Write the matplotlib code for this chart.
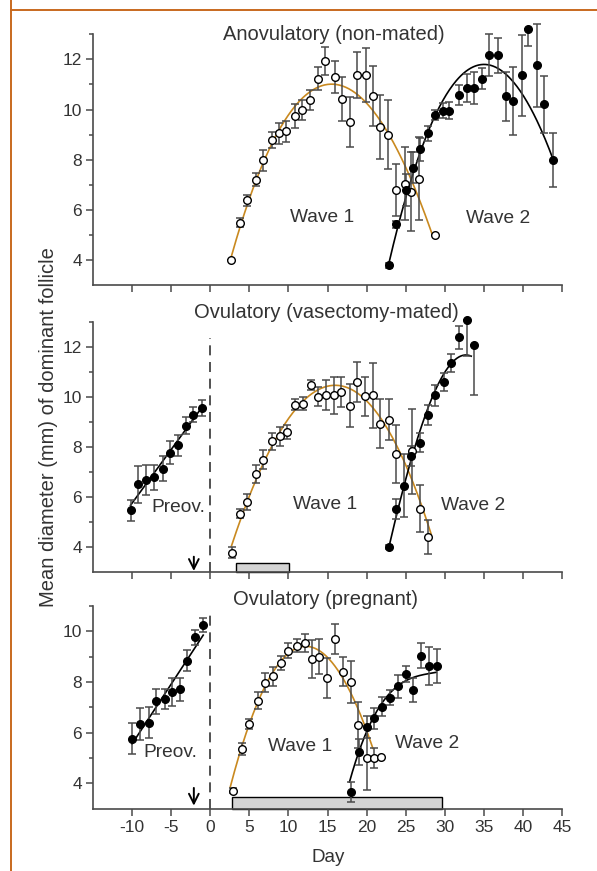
import numpy as np
import matplotlib
matplotlib.use("Agg")
import matplotlib.pyplot as plt
from matplotlib.lines import Line2D
from matplotlib.patches import Rectangle

plt.rcParams['font.family'] = ['Liberation Sans', 'DejaVu Sans']
plt.rcParams['axes.unicode_minus'] = False

# ---------------- data ----------------
# Top panel: anovulatory (non-mated)
a_w1_day = [2.7, 3.8, 4.7, 5.9, 6.7, 7.9, 8.8, 9.7, 10.8, 11.8, 12.7, 13.8, 14.7, 15.9, 16.8,
            17.9, 18.8, 19.9, 20.8, 21.7, 22.8, 23.7, 24.9, 25.7, 26.7, 28.7]
a_w1_val = [4.0, 5.49, 6.38, 7.2, 7.97, 8.78, 9.06, 9.13, 9.74, 9.98, 10.37, 11.23, 11.93, 11.3, 10.43,
            9.51, 11.37, 11.37, 10.55, 9.29, 9.0, 6.79, 7.04, 6.72, 7.24, 5.0]
a_w1_err = [0, 0.19, 0.22, 0.27, 0.41, 0.33, 0.42, 0.42, 0.48, 0.40, 0.39, 0.46, 0.56, 0.64, 0.88,
            1.0, 0.93, 1.08, 1.2, 1.28, 1.37, 1.03, 1.46, 1.58, 1.65, 0]
a_w2_day = [22.9, 23.8, 25.0, 25.9, 26.8, 27.8, 28.8, 29.75, 30.6, 31.8, 32.8, 33.75, 34.8, 35.7,
            36.8, 37.8, 38.7, 39.9, 40.7, 41.8, 42.75, 43.9]
a_w2_val = [3.79, 5.42, 6.79, 7.68, 8.41, 9.05, 9.78, 9.96, 9.96, 10.57, 10.87, 10.84, 11.23, 12.17,
            12.17, 10.53, 10.33, 11.36, 13.23, 11.76, 10.2, 7.97]
a_w2_elo = [0.1, 0.15, 0.65, 0.61, 0.46, 0.31, 0.21, 0.3, 0.33, 0.4, 0.56, 0.64, 0.43, 0.83,
            0.7, 0.98, 1.36, 1.6, 0.7, 1.67, 1.13, 1.08]
a_w2_ehi = [0.1, 0.15, 0.65, 0.61, 0.46, 0.31, 0.21, 0.3, 0.33, 0.4, 0.56, 0.64, 0.43, 0.83,
            0.7, 0.98, 1.36, 1.6, 0.0, 1.67, 1.13, 1.08]

# Middle panel: ovulatory (vasectomy-mated)
v_pre_day = [-10.2, -9.25, -8.2, -7.25, -6.06, -5.2, -4.14, -3.16, -2.2, -1.07]
v_pre_val = [5.45, 6.49, 6.67, 6.77, 7.12, 7.76, 8.05, 8.84, 9.28, 9.55]
v_pre_err = [0.43, 0.73, 0.6, 0.51, 0.5, 0.45, 0.41, 0.33, 0.31, 0.32]
v_w1_day = [2.72, 3.79, 4.73, 5.88, 6.78, 7.93, 8.86, 9.84, 10.87, 11.85, 12.87, 13.8, 14.75,
            15.77, 16.75, 17.9, 18.75, 19.86, 20.8, 21.7, 22.84, 23.8, 25.8, 26.77, 27.8]
v_w1_val = [3.75, 5.32, 5.79, 6.91, 7.48, 8.21, 8.41, 8.57, 9.68, 9.72, 10.47, 10.0, 10.05,
            10.05, 10.17, 9.64, 10.59, 10.01, 10.05, 8.91, 9.08, 7.71, 7.81, 5.52, 4.39]
v_w1_err = [0.22, 0.17, 0.32, 0.37, 0.39, 0.35, 0.37, 0.28, 0.23, 0.27, 0.21, 0.38, 0.6,
            0.73, 0.6, 0.87, 0.8, 0.78, 1.29, 0.98, 0.83, 1.17, 1.69, 0.95, 0.69]
v_w2_day = [22.84, 23.8, 24.85, 25.7, 26.77, 27.8, 28.8, 29.9, 30.86, 31.84, 32.8, 33.8]
v_w2_val = [3.97, 5.52, 6.44, 7.61, 8.15, 9.27, 10.05, 10.59, 11.35, 12.37, 13.08, 12.05]
v_w2_elo = [0.08, 0.4, 1.25, 0.4, 0.38, 0.4, 0.42, 0.35, 0.37, 0.45, 1.47, 2.0]
v_w2_ehi = [0.08, 0.4, 1.25, 0.4, 0.38, 0.4, 0.42, 0.35, 0.37, 0.45, 0.0, 0.0]

# Bottom panel: ovulatory (pregnant)
p_pre_day = [-9.98, -8.95, -7.89, -6.91, -5.84, -4.91, -3.84, -2.94, -2.0, -0.9]
p_pre_val = [5.76, 6.33, 6.4, 7.24, 7.32, 7.6, 7.71, 8.84, 9.76, 10.24]
p_pre_err = [0.61, 0.63, 0.6, 0.49, 0.39, 0.55, 0.45, 0.42, 0.31, 0.27]
p_w1_day = [2.9, 4.05, 4.94, 6.1, 6.95, 8.0, 9.0, 10.0, 11.04, 12.06, 13.08, 13.94, 14.96,
            15.98, 16.96, 18.07, 18.9, 20.07, 20.97, 21.9]
p_w1_val = [3.71, 5.36, 6.33, 7.27, 7.97, 8.23, 8.74, 9.24, 9.43, 9.54, 8.91, 9.0, 8.14,
            9.7, 8.4, 8.0, 6.31, 5.0, 5.0, 5.03]
p_w1_err = [0.1, 0.25, 0.2, 0.33, 0.38, 0.37, 0.27, 0.28, 0.25, 0.35, 0.75, 0.7, 0.79,
            0.6, 0.57, 0.81, 0.9, 1.25, 0.41, 0]
p_w2_day = [18.07, 19.0, 20.07, 21.0, 21.99, 23.0, 24.04, 25.06, 26.0, 26.9, 27.95, 28.98]
p_w2_val = [3.67, 5.24, 6.23, 6.56, 7.03, 7.38, 7.83, 8.31, 7.67, 9.04, 8.63, 8.63]
p_w2_err = [0.39, 0.5, 0.43, 0.4, 0.37, 0.3, 0.46, 0.31, 0.47, 0.5, 0.75, 0.67]

# Fitted growth/regression curves as printed (traced positions along each curve)
a_w1_fit_day = [2.7, 4.7, 7.88, 10.9, 15.9, 19.9, 21.65, 24.85, 26.8, 28.5]
a_w1_fit_val = [4.0, 6.35, 8.77, 9.94, 10.87, 10.4, 9.87, 7.61, 6.22, 5.05]
a_w2_fit_day = [22.9, 25.0, 26.8, 28.68, 31.88, 35.37, 38.7, 40.4, 43.9]
a_w2_fit_val = [3.79, 6.7, 8.3, 9.6, 11.13, 11.86, 11.25, 10.3, 7.97]
v_w1_fit_day = [2.72, 4.73, 7.93, 10.87, 14.83, 15.25, 21.65, 23.8, 25.5, 26.8, 28.26]
v_w1_fit_val = [3.99, 5.88, 8.01, 9.55, 10.35, 10.37, 9.35, 8.01, 6.95, 5.75, 4.55]
v_w2_fit_day = [22.84, 24.85, 26.42, 27.83, 29.96, 31.88, 33.38]
v_w2_fit_val = [3.97, 6.48, 8.28, 9.48, 11.01, 11.55, 11.64]
p_w1_fit_day = [2.56, 3.75, 6.1, 8.86, 12.7, 15.26, 16.96, 18.24, 19.5, 20.8]
p_w1_fit_val = [3.87, 5.13, 7.27, 8.71, 9.38, 8.94, 8.2, 7.4, 6.34, 5.47]
p_w2_fit_day = [17.81, 19.0, 20.07, 22.0, 24.04, 25.9, 28.9]
p_w2_fit_val = [4.0, 5.27, 6.2, 7.07, 7.8, 8.27, 8.36]

# linear pre-ovulatory fit spans (days)
v_pre_span = [-10.2, -1.0]
p_pre_span = [-10.0, -0.9]

x_ticks = [-10, -5, 0, 5, 10, 15, 20, 25, 30, 35, 40, 45]

# ---------------- style ----------------
ORANGE = '#c9891f'
FRAME = '#c8691e'
DARK = '#333333'
EC = '#4a4a4a'

W, H = 597, 871
fig = plt.figure(figsize=(W / 100, H / 100), dpi=100)

def box(top, bottom):
    return [93 / W, 1 - bottom / H, (562 - 93) / W, (bottom - top) / H]

ax1 = fig.add_axes(box(34.3, 285))
ax2 = fig.add_axes(box(321.7, 571.7))
ax3 = fig.add_axes(box(606, 808.7))

def style(ax, ymax, labels):
    ax.set_xlim(-15, 45)
    ax.set_ylim(3, ymax)
    for s in ['top', 'right']:
        ax.spines[s].set_visible(False)
    for s in ['left', 'bottom']:
        ax.spines[s].set_color(EC)
        ax.spines[s].set_linewidth(1.2)
    ax.set_xticks(x_ticks)
    ax.set_yticks(list(range(4, int(ymax) + 1, 2)))
    ax.set_yticks(list(range(5, int(ymax) + 1, 2)), minor=True)
    ax.tick_params(axis='both', which='major', length=5, width=1.1, color=EC,
                   labelsize=12.5, labelcolor=DARK, pad=3)
    ax.tick_params(axis='y', which='minor', length=3, width=1.1, color=EC)
    if not labels:
        ax.tick_params(axis='x', labelbottom=False)

style(ax1, 13, False)
style(ax2, 13, False)
style(ax3, 11, True)

def pts(ax, d, v, elo, ehi, filled):
    ax.errorbar(d, v, yerr=[elo, ehi], fmt='none', ecolor=EC, elinewidth=1.1,
                capsize=3, capthick=1.1, zorder=3, clip_on=False)
    ax.plot(d, v, 'o', ms=5.5, mfc='black' if filled else 'white', mec='black',
            mew=1.0, zorder=4, clip_on=False)

def curve(ax, d, v, color, deg=3):
    # smooth the traced curve positions with a low-order polynomial
    c = np.polyfit(d, v, deg)
    xs = np.linspace(min(d), max(d), 200)
    ax.plot(xs, np.polyval(c, xs), color=color, lw=1.2, zorder=2)

def linfit(ax, d, v, span):
    c = np.polyfit(d, v, 1)
    xs = np.linspace(span[0], span[1], 50)
    ax.plot(xs, np.polyval(c, xs), color='black', lw=1.2, zorder=2)

# top
curve(ax1, a_w1_fit_day, a_w1_fit_val, ORANGE)
curve(ax1, a_w2_fit_day, a_w2_fit_val, 'black')
pts(ax1, a_w1_day, a_w1_val, a_w1_err, a_w1_err, False)
pts(ax1, a_w2_day, a_w2_val, a_w2_elo, a_w2_ehi, True)

# middle
linfit(ax2, v_pre_day, v_pre_val, v_pre_span)
curve(ax2, v_w1_fit_day, v_w1_fit_val, ORANGE)
curve(ax2, v_w2_fit_day, v_w2_fit_val, 'black')
pts(ax2, v_pre_day, v_pre_val, v_pre_err, v_pre_err, True)
pts(ax2, v_w1_day, v_w1_val, v_w1_err, v_w1_err, False)
pts(ax2, v_w2_day, v_w2_val, v_w2_elo, v_w2_ehi, True)

# bottom
linfit(ax3, p_pre_day, p_pre_val, p_pre_span)
curve(ax3, p_w1_fit_day, p_w1_fit_val, ORANGE)
curve(ax3, p_w2_fit_day, p_w2_fit_val, 'black')
pts(ax3, p_pre_day, p_pre_val, p_pre_err, p_pre_err, True)
pts(ax3, p_w1_day, p_w1_val, p_w1_err, p_w1_err, False)
pts(ax3, p_w2_day, p_w2_val, p_w2_err, p_w2_err, True)

# dashed ovulation lines
ax2.axvline(0, ymin=0, ymax=0.935, color=DARK, lw=1.2, ls=(0, (6, 4)), zorder=1)
ax3.axvline(0, ymin=0, ymax=0.966, color=DARK, lw=1.2, ls=(0, (6, 4)), zorder=1)

# arrows
for ax, y0, y1 in [(ax2, 3.6, 3.03), (ax3, 3.82, 3.12)]:
    ax.annotate('', xy=(-2.1, y1), xytext=(-2.1, y0),
                arrowprops=dict(arrowstyle='->,head_length=0.5,head_width=0.25',
                                color='black', lw=1.4,
                                mutation_scale=14, shrinkA=0, shrinkB=0))

# grey bars
ax2.add_patch(Rectangle((3.3, 3.0), 10.1 - 3.3, 0.34, facecolor='#d4d4d4',
                        edgecolor='black', lw=1.0, zorder=1, clip_on=False))
ax3.add_patch(Rectangle((2.76, 3.0), 29.7 - 2.76, 0.47, facecolor='#d4d4d4',
                        edgecolor='black', lw=1.0, zorder=1, clip_on=False))

# titles & labels
tt = dict(fontsize=14.5, color=DARK, ha='center', va='center', clip_on=False)
ax1.text(15.8, 13.0, 'Anovulatory (non-mated)', **tt)
ax2.text(14.8, 13.35, 'Ovulatory (vasectomy-mated)', **tt)
ax3.text(14.8, 11.27, 'Ovulatory (pregnant)', **tt)

tk = dict(fontsize=13.8, color=DARK, ha='center', va='center')
ax1.text(14.35, 5.71, 'Wave 1', **tk)
ax1.text(36.8, 5.65, 'Wave 2', **tk)
ax2.text(-4.14, 5.55, 'Preov.', **tk)
ax2.text(14.7, 5.68, 'Wave 1', **tk)
ax2.text(33.6, 5.64, 'Wave 2', **tk)
ax3.text(-5.05, 5.2, 'Preov.', **tk)
ax3.text(11.55, 5.47, 'Wave 1', **tk)
ax3.text(27.8, 5.58, 'Wave 2', **tk)

fig.text(49 / W, 1 - 427 / H, 'Mean diameter (mm) of dominant follicle', rotation=90,
         fontsize=14.5, color=DARK, ha='center', va='center')
fig.text(328 / W, 1 - 857 / H, 'Day', fontsize=13.5, color=DARK, ha='center', va='center')

# orange frame lines
fig.add_artist(Line2D([10.5 / W, 10.5 / W], [0, 1], color=FRAME, lw=1.4))
fig.add_artist(Line2D([10.5 / W, 1], [1 - 10 / H, 1 - 10 / H], color=FRAME, lw=1.4))

fig.savefig('out.png', dpi=100)
